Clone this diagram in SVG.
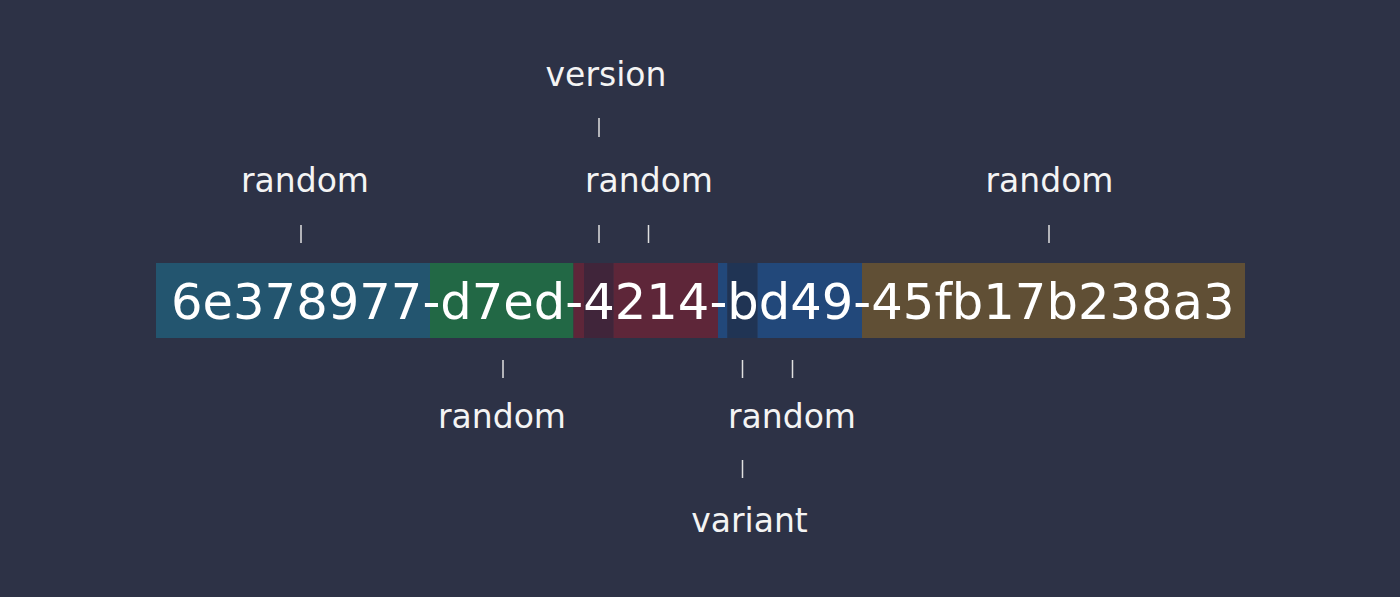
<svg xmlns="http://www.w3.org/2000/svg" width="1400" height="597" viewBox="0 0 1400 597">
<style>
.lbl{font-family:"DejaVu Sans",sans-serif;font-size:33px;fill:#f4f4f4;text-anchor:middle}
.uuid{font-family:"DejaVu Sans",sans-serif;font-size:49.6px;fill:#ffffff}
.tick{stroke:#e0e0e0;stroke-width:1.5}
</style>
<rect x="0" y="0" width="1400" height="597" fill="#2d3246"/>
<g id="segments">
<rect x="156" y="263" width="274" height="75" fill="#23556f"/>
<rect x="430" y="263" width="143.5" height="75" fill="#226845"/>
<rect x="573.5" y="263" width="10.5" height="75" fill="#5e2639"/>
<rect x="584" y="263" width="29.5" height="75" fill="#40253a"/>
<rect x="613.5" y="263" width="104.5" height="75" fill="#5e2639"/>
<rect x="718" y="263" width="9.5" height="75" fill="#22487a"/>
<rect x="727.5" y="263" width="30" height="75" fill="#203454"/>
<rect x="757.5" y="263" width="104.5" height="75" fill="#22487a"/>
<rect x="862" y="263" width="383" height="75" fill="#604f35"/>
</g>
<g id="uuid"><text class="uuid" x="171" y="318.5">6e378977-d7ed-4214-bd49-45fb17b238a3</text></g>
<g id="connectors">
<line class="tick" x1="301" y1="225" x2="301" y2="243"/>
<line class="tick" x1="599" y1="118" x2="599" y2="137"/>
<line class="tick" x1="599" y1="225" x2="599" y2="243"/>
<line class="tick" x1="648.5" y1="225" x2="648.5" y2="243"/>
<line class="tick" x1="1049" y1="225" x2="1049" y2="243"/>
<line class="tick" x1="503" y1="360" x2="503" y2="378"/>
<line class="tick" x1="742.5" y1="360" x2="742.5" y2="378"/>
<line class="tick" x1="792.5" y1="360" x2="792.5" y2="378"/>
<line class="tick" x1="742.5" y1="460" x2="742.5" y2="478"/>
</g>
<g id="label-version"><text class="lbl" x="606" y="86">version</text></g>
<g id="label-random-1"><text class="lbl" x="305" y="192">random</text></g>
<g id="label-random-3"><text class="lbl" x="649" y="192">random</text></g>
<g id="label-random-5"><text class="lbl" x="1049.5" y="192">random</text></g>
<g id="label-random-2"><text class="lbl" x="502" y="428">random</text></g>
<g id="label-random-4"><text class="lbl" x="792" y="428">random</text></g>
<g id="label-variant"><text class="lbl" x="749.5" y="532">variant</text></g>
</svg>
